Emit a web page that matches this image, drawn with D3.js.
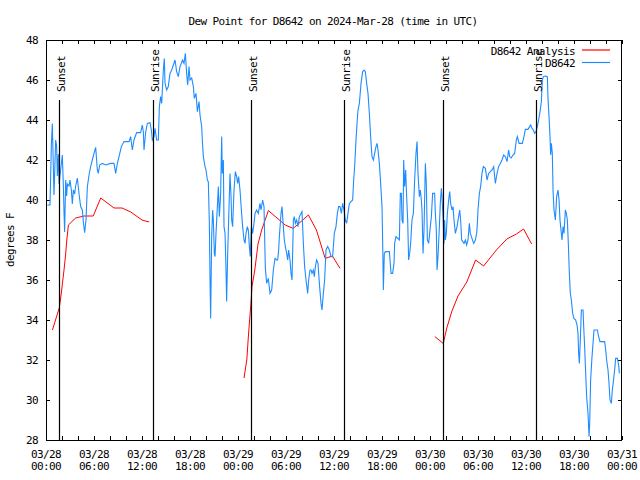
<!DOCTYPE html>
<html><head><meta charset="utf-8">
<script src="https://cdn.jsdelivr.net/npm/d3@7"></script>
<style>
html,body{margin:0;padding:0;background:#fff;}
svg{display:block;}
text{font-family:"DejaVu Sans Mono","Liberation Mono",monospace;font-size:11px;letter-spacing:-0.6px;fill:#000;}
</style></head>
<body><svg id="c" width="640" height="480"></svg>
<script>
// ---- data (hours since 2024-03-28 00:00 UTC) ----
const chartTitle = "Dew Point for D8642 on 2024-Mar-28 (time in UTC)";
const yLabel = "degrees F";
const seriesNames = ["D8642 Analysis", "D8642"];
const yTicks = [28,30,32,34,36,38,40,42,44,46,48];
const xTickHours = d3.range(0, 73, 2);
const xLabelHours = [0,6,12,18,24,30,36,42,48,54,60,66,72];
const sunEventHours = [1.66, 13.41, 25.62, 37.29, 49.62, 61.29];
const sunEventLabels = ["Sunset","Sunrise","Sunset","Sunrise","Sunset","Sunrise"];

const analysis1 = [[0.8,33.5],[1.66,34.6],[1.9,35.3],[2.25,36.5],[2.46,37.3],[2.6,38.0],[2.8,38.75],[3.7,39.1],[4.75,39.2],[5.9,39.2],[6.84,40.1],[8.5,39.6],[9.5,39.6],[10.6,39.4],[12.0,39.0],[12.9,38.9]];
const analysis2 = [[24.75,31.1],[25.1,32.0],[25.3,33.2],[25.6,34.75],[25.75,35.67],[26.1,36.5],[26.5,37.8],[26.96,38.5],[27.8,39.47],[29.9,38.75],[30.9,38.58],[32.8,39.25],[33.8,38.5],[34.9,37.08],[35.8,37.2],[36.75,36.58]];
const analysis3 = [[48.6,33.17],[49.66,32.83],[50.1,33.6],[50.7,34.4],[51.5,35.2],[52.6,35.9],[53.7,37.0],[54.7,36.7],[56.3,37.5],[57.6,38.05],[58.8,38.3],[59.7,38.55],[60.7,37.8]];

const observed = [
[0.17,39.75],[0.5,39.75],[0.67,42.75],[0.79,43.83],[1.0,40.25],[1.21,43.0],[1.33,42.7],[1.42,41.2],[1.54,42.3],[1.63,40.8],[1.83,41.5],[2.04,42.25],[2.17,40.7],[2.25,39.4],[2.33,38.4],[2.46,41.0],[2.58,40.2],[2.67,40.8],[2.88,40.7],[3.0,41.0],[3.17,40.5],[3.29,39.8],[3.42,40.5],[3.58,40.3],[3.71,40.7],[3.92,41.1],[4.13,40.3],[4.33,39.67],[4.54,39.5],[4.67,38.9],[4.83,38.37],[5.0,39.0],[5.17,40.67],[5.38,41.25],[5.58,41.67],[5.79,42.0],[6.0,42.33],[6.21,42.63],[6.42,41.5],[6.54,41.33],[6.71,41.75],[7.04,41.83],[7.46,41.75],[8.08,41.83],[8.5,41.83],[8.71,41.33],[8.92,41.83],[9.13,42.17],[9.42,42.67],[9.75,42.92],[10.38,42.92],[10.58,43.17],[10.79,42.5],[11.0,43.0],[11.33,43.37],[11.83,43.37],[12.04,43.75],[12.17,43.4],[12.25,42.5],[12.46,43.4],[12.67,43.83],[13.0,43.87],[13.17,43.5],[13.29,43.0],[13.5,43.17],[13.63,43.58],[13.83,43.0],[14.04,43.0],[14.17,44.67],[14.33,45.17],[14.46,44.83],[14.67,46.5],[14.79,47.08],[14.88,45.83],[15.08,45.5],[15.29,45.67],[15.5,46.33],[15.71,46.5],[15.92,46.75],[16.13,47.0],[16.33,46.42],[16.54,46.17],[16.75,46.67],[17.08,47.0],[17.25,46.83],[17.42,47.33],[17.58,46.33],[17.71,45.75],[17.88,46.67],[18.0,46.0],[18.21,46.1],[18.42,45.67],[18.54,45.08],[18.75,45.33],[18.92,44.42],[19.13,44.92],[19.25,44.25],[19.46,43.67],[19.54,43.0],[19.67,42.17],[19.88,41.67],[20.0,41.5],[20.17,41.0],
[20.29,40.92],[20.42,38.83],[20.5,36.08],[20.58,34.08],[20.71,38.17],[20.83,39.5],[20.92,39.0],[21.04,37.33],[21.13,37.17],[21.25,38.33],[21.42,39.67],[21.54,40.67],[21.67,39.17],[21.83,40.33],[21.96,43.17],[22.04,41.33],[22.17,42.0],[22.25,38.67],[22.38,38.33],[22.5,36.5],[22.58,34.92],[22.71,37.33],[22.88,39.67],[23.0,41.33],[23.13,40.17],[23.21,39.0],[23.33,38.67],[23.5,40.5],[23.67,41.42],[23.83,41.17],[23.96,40.83],[24.08,41.17],[24.25,40.5],[24.42,39.5],[24.58,38.67],[24.75,38.0],[24.88,37.83],[25.0,38.33],[25.17,38.67],[25.29,38.5],[25.42,37.67],[25.54,37.17],[25.67,38.67],[25.83,38.33],[26.0,38.83],[26.13,39.33],[26.33,39.5],[26.54,39.33],[26.75,39.83],[26.88,39.5],[27.08,40.0],[27.25,39.67],[27.42,36.58],[27.58,35.83],[27.79,36.08],[28.0,35.33],[28.21,35.5],[28.42,36.5],[28.63,37.08],[28.83,37.0],
[28.96,37.0],[29.08,37.5],[29.17,38.17],[29.38,39.33],[29.5,39.67],[29.67,38.67],[29.79,38.0],[29.92,37.67],[30.08,37.33],[30.21,37.0],[30.33,37.5],[30.5,37.0],[30.63,36.33],[30.75,36.0],[30.83,37.33],[30.92,39.0],[31.04,39.17],[31.17,38.83],[31.33,39.0],[31.5,38.67],[31.67,39.17],[31.88,39.33],[32.0,39.42],[32.08,38.67],[32.17,37.83],[32.33,36.67],[32.5,36.0],[32.71,35.33],[32.83,36.0],[33.0,36.5],[33.13,36.5],[33.25,36.33],[33.42,36.5],[33.54,36.17],[33.67,36.67],[33.83,37.0],[34.0,36.83],[34.17,35.83],[34.38,34.83],[34.5,34.5],[34.67,35.33],[34.83,36.0],[35.0,37.5],[35.21,37.67],[35.42,37.5],[35.63,37.17],[35.83,37.17],[36.04,38.33],[36.25,38.67],[36.42,39.33],[36.58,39.67],[36.75,39.67],[36.92,39.33],[37.08,39.83],[37.25,39.5],[37.42,39.0],[37.58,38.83],[37.75,39.33],[37.92,39.83],[38.13,39.92],[38.33,40.0],[38.46,41.0],[38.58,41.67],[38.75,43.0],[38.88,43.83],[39.0,44.5],[39.17,44.83],[39.38,45.83],[39.58,46.42],[39.79,46.5],[39.92,46.42],[40.08,45.83],[40.25,45.33],[40.42,44.33],[40.58,43.17],[40.75,42.17],[40.92,42.0],[41.08,42.33],[41.25,42.67],[41.38,42.83],[41.5,42.5],[41.67,41.83],[41.83,40.83],[42.0,39.67],[42.08,38.0],[42.17,35.5],[42.29,37.33],[42.42,37.42],[42.92,37.42],[43.13,36.33],[43.33,36.33],[43.5,36.83],
[43.58,37.83],[43.75,38.17],[44.17,38.0],[44.29,40.33],[44.42,40.33],[44.5,39.0],[44.63,38.83],[44.71,42.0],[44.83,40.67],[44.96,41.5],[45.08,40.17],[45.21,39.0],[45.33,37.0],[45.46,37.33],[45.58,37.83],[45.75,39.0],[45.92,39.33],[46.08,41.0],[46.25,42.33],[46.38,42.92],[46.5,41.33],[46.67,40.17],[46.79,40.5],[46.92,40.0],[47.0,39.5],[47.13,37.33],[47.25,38.5],[47.42,41.83],[47.54,40.83],[47.67,38.0],[47.83,37.83],[48.0,38.5],[48.17,39.17],[48.33,40.33],[48.58,40.33],[48.67,39.33],[48.79,38.5],[48.88,36.5],[49.0,37.17],[49.17,38.67],[49.29,39.83],[49.42,40.58],[49.5,40.17],[49.63,39.17],[49.75,37.83],[49.83,39.0],[49.92,38.0],[50.04,38.33],[50.17,39.33],[50.33,40.0],[50.46,40.42],[50.58,39.83],[50.75,39.5],[50.88,39.67],[51.0,39.0],[51.17,38.33],[51.38,38.67],[51.58,39.17],[51.71,39.5],[51.83,39.0],[51.96,38.0],[52.25,37.83],[52.42,38.0],[52.58,37.75],[52.75,38.0],[52.92,38.83],[53.04,38.33],[53.17,38.17],[53.46,37.83],[53.67,38.0],[53.83,38.33],[53.92,38.83],[54.0,39.5],[54.17,40.33],[54.33,40.67],[54.5,41.33],[54.67,41.67],[54.92,41.58],[55.13,41.0],[55.33,41.33],[55.54,41.42],[55.75,41.5],[55.96,41.67],[56.17,40.83],[56.38,41.33],[56.58,41.67],[56.79,41.83],[57.0,42.0],[57.21,42.25],[57.42,42.17],[57.63,41.92],[57.83,42.5],
[57.96,42.17],[58.14,42.1],[58.38,42.25],[58.58,42.33],[58.79,43.0],[58.92,43.17],[59.13,42.83],[59.54,42.83],[59.75,43.17],[59.92,43.53],[60.25,43.53],[60.46,43.67],[60.58,43.75],[60.75,43.58],[60.92,43.5],[61.08,43.33],[61.25,43.42],[61.42,43.67],[61.58,44.0],[61.75,44.42],[61.92,44.92],[62.04,46.0],[62.17,46.17],[62.42,46.2],[62.67,46.17],[62.75,45.08],[62.88,44.17],[63.0,43.17],[63.08,42.25],[63.17,42.83],[63.29,42.33],[63.38,40.5],[63.5,39.5],[63.67,39.0],[63.83,40.17],[64.0,40.5],[64.13,40.0],[64.25,39.0],[64.33,38.67],[64.5,38.0],[64.63,38.67],[64.75,38.33],[64.92,39.5],[65.04,39.33],[65.17,39.0],[65.29,37.83],[65.42,36.33],[65.54,35.33],[65.67,35.0],[65.83,34.33],[66.0,34.08],[66.21,34.0],[66.38,33.75],[66.5,33.33],[66.58,32.33],[66.67,31.83],[66.79,33.0],[66.92,34.5],[67.13,34.5],[67.21,33.67],[67.33,32.67],[67.46,31.33],[67.58,30.17],[67.75,29.33],[67.88,28.17],[67.96,28.83],[68.08,31.0],[68.25,32.17],[68.38,32.83],[68.5,33.5],[68.92,33.5],[69.08,33.17],[69.25,32.92],[69.83,32.92],[69.96,32.5],[70.08,32.0],[70.25,31.5],[70.38,30.83],[70.5,30.0],[70.67,29.83],[70.79,30.5],[70.92,30.92],[71.08,31.5],[71.21,32.08],[71.42,32.08],[71.58,31.75],[71.67,31.33]
];

// ---- layout ----
const L = 46, R = 622, T = 40, B = 440;
const t0 = Date.UTC(2024, 2, 28);
const toDate = h => new Date(t0 + h * 3600e3);
const svg = d3.select("#c");
const x = d3.scaleUtc().domain([toDate(0), toDate(72)]).range([L, R]);
const y = d3.scaleLinear().domain([28, 48]).range([B, T]);
const blue = "#1e8cff", red = "#ff0000";

// title
svg.append("text").attr("x", 333).attr("y", 24.5).attr("text-anchor", "middle").text(chartTitle);

// y label
svg.append("text").attr("transform", "translate(14,240) rotate(-90)").attr("text-anchor", "middle").text(yLabel);

// axes (ticks inward)
const xTickDates = xTickHours.map(toDate);
const gB = svg.append("g").attr("transform", `translate(0,${B})`)
  .call(d3.axisBottom(x).tickValues(xTickDates).tickSize(-4).tickFormat(""));
const gT = svg.append("g").attr("transform", `translate(0,${T})`)
  .call(d3.axisTop(x).tickValues(xTickDates).tickSize(-4).tickFormat(""));
const gL = svg.append("g").attr("transform", `translate(${L},0)`)
  .call(d3.axisLeft(y).tickValues(yTicks).tickSize(-4).tickPadding(8).tickFormat(d3.format("d")));
const gR = svg.append("g").attr("transform", `translate(${R},0)`)
  .call(d3.axisRight(y).tickValues(yTicks).tickSize(-4).tickFormat(""));
[gB, gT, gL, gR].forEach(g => {
  g.select(".domain").remove();
  g.selectAll("line").attr("stroke", "#000").attr("shape-rendering", "crispEdges");
  g.selectAll("text").attr("font-family", null).attr("font-size", null).attr("fill", "#000");
});
gL.selectAll("text").attr("dy", "0.36em");

// x labels (two lines)
const fmtD = d3.utcFormat("%m/%d"), fmtT = d3.utcFormat("%H:%M");
const xl = svg.append("g");
xLabelHours.forEach(h => {
  const d = toDate(h);
  const t = xl.append("text").attr("text-anchor", "middle");
  t.append("tspan").attr("x", x(d)).attr("y", 458).text(fmtD(d));
  t.append("tspan").attr("x", x(d)).attr("y", 470).text(fmtT(d));
});

// data lines
const line = d3.line().x(d => x(toDate(d[0]))).y(d => y(d[1]));
const dataG = svg.append("g");
[analysis1, analysis2, analysis3].forEach(seg => {
  dataG.append("path").datum(seg).attr("d", line).attr("fill", "none")
    .attr("stroke", red).attr("stroke-width", 1);
});
dataG.append("path").datum(observed).attr("d", line).attr("fill", "none")
  .attr("stroke", blue).attr("stroke-width", 1.1);

// sunrise/sunset markers
sunEventHours.forEach((h, i) => {
  const xx = Math.round(x(toDate(h))) + 0.5;
  svg.append("line").attr("x1", xx).attr("x2", xx).attr("y1", 100).attr("y2", B)
    .attr("stroke", "#000").attr("stroke-width", 1.2);
  svg.append("text").attr("transform", `translate(${xx + 5},92) rotate(-90)`).text(sunEventLabels[i]);
});

// border
svg.append("rect").attr("x", L + 0.5).attr("y", T + 0.5).attr("width", R - L - 1).attr("height", B - T)
  .attr("fill", "none").attr("stroke", "#000").attr("stroke-width", 1).attr("shape-rendering", "crispEdges");

// legend
const lg = svg.append("g");
[[seriesNames[0], red, 54.5, 50], [seriesNames[1], blue, 67, 62.5]].forEach(([name, col, ty, ly]) => {
  lg.append("text").attr("x", 575).attr("y", ty).attr("text-anchor", "end").text(name);
  lg.append("line").attr("x1", 582).attr("x2", 610).attr("y1", ly).attr("y2", ly)
    .attr("stroke", col).attr("stroke-width", 1.2);
});
</script></body></html>
